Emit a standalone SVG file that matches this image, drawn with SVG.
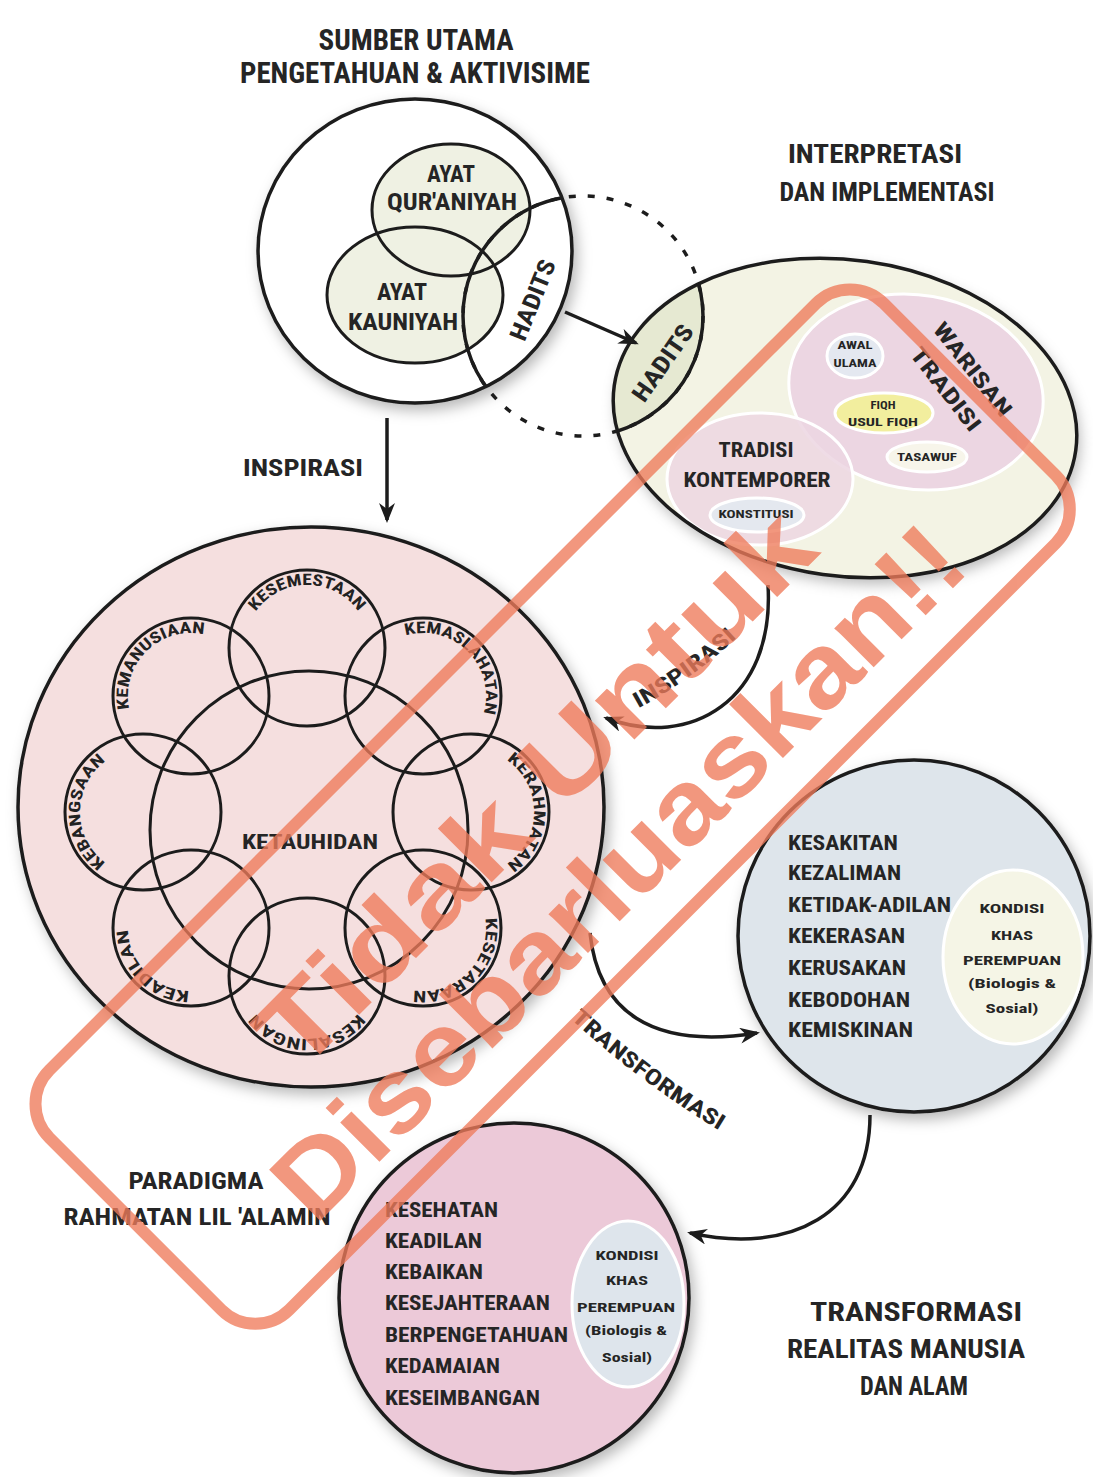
<svg xmlns="http://www.w3.org/2000/svg" xmlns:xlink="http://www.w3.org/1999/xlink" width="1093" height="1477" viewBox="0 0 1093 1477">
<defs>
<style>
.c{font-family:"Liberation Sans Narrow","Roboto Condensed","Liberation Sans",Arial,sans-serif;font-weight:700;fill:#252525}
.ln{fill:none;stroke:#1c1c1c;stroke-width:3}
.bl{stroke:#1c1c1c;stroke-width:3.5}
.sub{stroke:#ffffff;stroke-width:3}
.f{font-family:"Liberation Sans Narrow","Roboto Condensed","Liberation Sans",Arial,sans-serif;font-weight:700;font-size:16px;fill:#222}
.arr{fill:none;stroke:#1c1c1c;stroke-width:3.5;marker-end:url(#ah)}
.wm{font-family:"Liberation Sans",Arial,sans-serif;font-weight:700;fill:#ef7b5b}
</style>
<filter id="sh" x="-15%" y="-15%" width="135%" height="135%">
<feDropShadow dx="4" dy="6" stdDeviation="7" flood-color="#000" flood-opacity="0.28"/>
</filter>
<marker id="ah" viewBox="0 0 20 16" refX="17" refY="8" markerWidth="20" markerHeight="16" markerUnits="userSpaceOnUse" orient="auto">
<path d="M0,0 L20,8 L0,16 L6,8 z" fill="#1c1c1c"/>
</marker>
<clipPath id="clipTop"><ellipse cx="415" cy="251" rx="157" ry="152"/></clipPath>
<clipPath id="clipInterp"><ellipse cx="845" cy="418" rx="233" ry="158" transform="rotate(8 845 418)"/></clipPath>
<path id="p1" d="M307,711 A63,63 0 0 1 307,585 A63,63 0 0 1 307,711"/>
<path id="p2" d="M378.45,740.55 A63,63 0 0 1 467.55,651.45 A63,63 0 0 1 378.45,740.55"/>
<path id="p3" d="M408,812 A63,63 0 0 1 534,812 A63,63 0 0 1 408,812"/>
<path id="p4" d="M378.45,883.45 A63,63 0 0 1 467.55,972.55 A63,63 0 0 1 378.45,883.45"/>
<path id="p5" d="M307,913 A63,63 0 0 1 307,1039 A63,63 0 0 1 307,913"/>
<path id="p6" d="M235.55,883.45 A63,63 0 0 1 146.45,972.55 A63,63 0 0 1 235.55,883.45"/>
<path id="p7" d="M206,812 A63,63 0 0 1 80,812 A63,63 0 0 1 206,812"/>
<path id="p8" d="M235.55,740.55 A63,63 0 0 1 146.45,651.45 A63,63 0 0 1 235.55,740.55"/>
<path id="pInsp" d="M630,713 Q693,680 744,631"/>
<path id="pTrans" d="M567.6,1016.2 Q639.2,1082.4 722.8,1132.6"/>
</defs>

<rect width="1093" height="1477" fill="#ffffff"/>

<g id="title-sumber">
<text class="c" x="416" y="50" font-size="30" text-anchor="middle" textLength="195" lengthAdjust="spacingAndGlyphs">SUMBER UTAMA</text>
<text class="c" x="415" y="83" font-size="30" text-anchor="middle" textLength="350" lengthAdjust="spacingAndGlyphs">PENGETAHUAN &amp; AKTIVISIME</text>
</g>

<g id="title-interpretasi">
<text class="c" x="875" y="163" font-size="26" text-anchor="middle" textLength="174" lengthAdjust="spacingAndGlyphs">INTERPRETASI</text>
<text class="c" x="887" y="201" font-size="26" text-anchor="middle" textLength="215" lengthAdjust="spacingAndGlyphs">DAN IMPLEMENTASI</text>
</g>

<g id="node-sumber">
<ellipse cx="415" cy="251" rx="157" ry="152" fill="#ffffff" class="bl" filter="url(#sh)"/>
<ellipse cx="451" cy="210" rx="79" ry="66" fill="#eff1e3"/>
<ellipse cx="415" cy="295" rx="88" ry="68" fill="#eff1e3"/>
<ellipse cx="451" cy="210" rx="79" ry="66" class="ln"/>
<ellipse cx="415" cy="295" rx="88" ry="68" class="ln"/>
<text class="c" x="451" y="182" font-size="24" text-anchor="middle" textLength="48" lengthAdjust="spacingAndGlyphs">AYAT</text>
<text class="c" x="452" y="210" font-size="24" text-anchor="middle" textLength="130" lengthAdjust="spacingAndGlyphs">QUR'ANIYAH</text>
<text class="c" x="402" y="300" font-size="24" text-anchor="middle" textLength="50" lengthAdjust="spacingAndGlyphs">AYAT</text>
<text class="c" x="403" y="330" font-size="24" text-anchor="middle" textLength="110" lengthAdjust="spacingAndGlyphs">KAUNIYAH</text>
</g>

<g id="node-interpretasi">
<ellipse cx="845" cy="418" rx="233" ry="158" transform="rotate(8 845 418)" fill="#f3f3e4" filter="url(#sh)"/>
<circle cx="583" cy="316" r="120" fill="#e6e9d2" clip-path="url(#clipInterp)"/>
<ellipse cx="916" cy="392" rx="128" ry="97" transform="rotate(10 916 392)" fill="#ecd6e2" class="sub"/>
<ellipse cx="760" cy="479" rx="93" ry="66" fill="#ecd6e2" fill-opacity="0.85" class="sub"/>
<ellipse cx="855" cy="356" rx="28" ry="22" fill="#e4e8f0" class="sub"/>
<ellipse cx="884" cy="413" rx="49" ry="20" fill="#f2ee9e" class="sub"/>
<ellipse cx="927" cy="457" rx="40" ry="15" fill="#f7f5ea" class="sub"/>
<ellipse cx="757" cy="515" rx="47" ry="17" fill="#e4e8ef" class="sub"/>
<ellipse cx="845" cy="418" rx="233" ry="158" transform="rotate(8 845 418)" class="bl" fill="none"/>
<text class="c" font-size="22" text-anchor="middle" transform="translate(973,369) rotate(52)" y="8" textLength="113" lengthAdjust="spacingAndGlyphs">WARISAN</text>
<text class="c" font-size="22" text-anchor="middle" transform="translate(946,389) rotate(52)" y="8" textLength="100" lengthAdjust="spacingAndGlyphs">TRADISI</text>
<text class="c" x="855" y="349" font-size="10" text-anchor="middle" textLength="35" lengthAdjust="spacingAndGlyphs">AWAL</text>
<text class="c" x="855" y="367" font-size="10" text-anchor="middle" textLength="43" lengthAdjust="spacingAndGlyphs">ULAMA</text>
<text class="c" x="883" y="409" font-size="10" text-anchor="middle" textLength="25" lengthAdjust="spacingAndGlyphs">FIQH</text>
<text class="c" x="883" y="426" font-size="10" text-anchor="middle" textLength="70" lengthAdjust="spacingAndGlyphs">USUL FIQH</text>
<text class="c" x="927" y="461" font-size="10" text-anchor="middle" textLength="60" lengthAdjust="spacingAndGlyphs">TASAWUF</text>
<text class="c" x="756" y="457" font-size="21" text-anchor="middle" textLength="75" lengthAdjust="spacingAndGlyphs">TRADISI</text>
<text class="c" x="757" y="487" font-size="21" text-anchor="middle" textLength="147" lengthAdjust="spacingAndGlyphs">KONTEMPORER</text>
<text class="c" x="756" y="518" font-size="10" text-anchor="middle" textLength="75" lengthAdjust="spacingAndGlyphs">KONSTITUSI</text>
</g>

<g id="node-hadits">
<circle cx="583" cy="316" r="120" fill="none" stroke="#1c1c1c" stroke-width="3.5" stroke-dasharray="7 12"/>
<circle cx="583" cy="316" r="120" class="bl" fill="none" clip-path="url(#clipTop)"/>
<circle cx="583" cy="316" r="120" class="bl" fill="none" clip-path="url(#clipInterp)"/>
<text class="c" font-size="24" text-anchor="middle" transform="translate(533,300) rotate(-68)" y="8" textLength="85" lengthAdjust="spacingAndGlyphs">HADITS</text>
<text class="c" font-size="24" text-anchor="middle" transform="translate(663,363) rotate(-55)" y="8" textLength="88" lengthAdjust="spacingAndGlyphs">HADITS</text>
</g>

<g id="node-paradigma">
<ellipse cx="311" cy="807" rx="293" ry="280" fill="#f5dfdf" class="bl" filter="url(#sh)"/>
<circle cx="309" cy="830" r="159" class="ln"/>
<circle cx="307" cy="648" r="78" class="ln"/>
<circle cx="423" cy="696" r="78" class="ln"/>
<circle cx="471" cy="812" r="78" class="ln"/>
<circle cx="423" cy="928" r="78" class="ln"/>
<circle cx="307" cy="976" r="78" class="ln"/>
<circle cx="191" cy="928" r="78" class="ln"/>
<circle cx="143" cy="812" r="78" class="ln"/>
<circle cx="191" cy="696" r="78" class="ln"/>
<text class="f"><textPath href="#p1" xlink:href="#p1" startOffset="50%" text-anchor="middle" textLength="120" lengthAdjust="spacingAndGlyphs">KESEMESTAAN</textPath></text>
<text class="f"><textPath href="#p2" xlink:href="#p2" startOffset="50%" text-anchor="middle" textLength="134" lengthAdjust="spacingAndGlyphs">KEMASLAHATAN</textPath></text>
<text class="f"><textPath href="#p3" xlink:href="#p3" startOffset="50%" text-anchor="middle" textLength="122" lengthAdjust="spacingAndGlyphs">KERAHMATAN</textPath></text>
<text class="f"><textPath href="#p4" xlink:href="#p4" startOffset="50%" text-anchor="middle" textLength="118" lengthAdjust="spacingAndGlyphs">KESETARAAN</textPath></text>
<text class="f"><textPath href="#p5" xlink:href="#p5" startOffset="50%" text-anchor="middle" textLength="118" lengthAdjust="spacingAndGlyphs">KESALINGAN</textPath></text>
<text class="f"><textPath href="#p6" xlink:href="#p6" startOffset="50%" text-anchor="middle" textLength="96" lengthAdjust="spacingAndGlyphs">KEADILAN</textPath></text>
<text class="f"><textPath href="#p7" xlink:href="#p7" startOffset="50%" text-anchor="middle" textLength="118" lengthAdjust="spacingAndGlyphs">KEBANGSAAN</textPath></text>
<text class="f"><textPath href="#p8" xlink:href="#p8" startOffset="50%" text-anchor="middle" textLength="125" lengthAdjust="spacingAndGlyphs">KEMANUSIAAN</textPath></text>
<text class="c" x="310" y="849" font-size="20" text-anchor="middle" textLength="136" lengthAdjust="spacingAndGlyphs">KETAUHIDAN</text>
</g>

<g id="title-paradigma">
<text class="c" x="196" y="1189" font-size="24" text-anchor="middle" textLength="135" lengthAdjust="spacingAndGlyphs">PARADIGMA</text>
<text class="c" x="197" y="1225" font-size="24" text-anchor="middle" textLength="267" lengthAdjust="spacingAndGlyphs">RAHMATAN LIL 'ALAMIN</text>
</g>

<g id="node-realitas">
<circle cx="914" cy="936" r="176" fill="#dee5eb" class="bl" filter="url(#sh)"/>
<ellipse cx="1013" cy="957" rx="70" ry="87" fill="#f5f5e6" class="sub"/>
<text class="c" x="788" y="850" font-size="21" textLength="110" lengthAdjust="spacingAndGlyphs">KESAKITAN</text>
<text class="c" x="788" y="880" font-size="21" textLength="113" lengthAdjust="spacingAndGlyphs">KEZALIMAN</text>
<text class="c" x="788" y="912" font-size="21" textLength="163" lengthAdjust="spacingAndGlyphs">KETIDAK-ADILAN</text>
<text class="c" x="788" y="943" font-size="21" textLength="117" lengthAdjust="spacingAndGlyphs">KEKERASAN</text>
<text class="c" x="788" y="975" font-size="21" textLength="118" lengthAdjust="spacingAndGlyphs">KERUSAKAN</text>
<text class="c" x="788" y="1007" font-size="21" textLength="122" lengthAdjust="spacingAndGlyphs">KEBODOHAN</text>
<text class="c" x="788" y="1037" font-size="21" textLength="125" lengthAdjust="spacingAndGlyphs">KEMISKINAN</text>
<text class="c" x="1012" y="913" font-size="13" text-anchor="middle" textLength="65" lengthAdjust="spacingAndGlyphs">KONDISI</text>
<text class="c" x="1012" y="940" font-size="13" text-anchor="middle" textLength="42" lengthAdjust="spacingAndGlyphs">KHAS</text>
<text class="c" x="1012" y="965" font-size="13" text-anchor="middle" textLength="98" lengthAdjust="spacingAndGlyphs">PEREMPUAN</text>
<text class="c" x="1012" y="988" font-size="13" text-anchor="middle" textLength="88" lengthAdjust="spacingAndGlyphs">(Biologis &amp;</text>
<text class="c" x="1012" y="1013" font-size="13" text-anchor="middle" textLength="53" lengthAdjust="spacingAndGlyphs">Sosial)</text>
</g>

<g id="node-transformasi">
<circle cx="514" cy="1298" r="175" fill="#ecc9d8" class="bl" filter="url(#sh)"/>
<ellipse cx="628" cy="1304" rx="56" ry="83" fill="#dee5ec" class="sub"/>
<text class="c" x="385" y="1217" font-size="21" textLength="113" lengthAdjust="spacingAndGlyphs">KESEHATAN</text>
<text class="c" x="385" y="1248" font-size="21" textLength="97" lengthAdjust="spacingAndGlyphs">KEADILAN</text>
<text class="c" x="385" y="1279" font-size="21" textLength="98" lengthAdjust="spacingAndGlyphs">KEBAIKAN</text>
<text class="c" x="385" y="1310" font-size="21" textLength="165" lengthAdjust="spacingAndGlyphs">KESEJAHTERAAN</text>
<text class="c" x="385" y="1342" font-size="21" textLength="183" lengthAdjust="spacingAndGlyphs">BERPENGETAHUAN</text>
<text class="c" x="385" y="1373" font-size="21" textLength="115" lengthAdjust="spacingAndGlyphs">KEDAMAIAN</text>
<text class="c" x="385" y="1405" font-size="21" textLength="155" lengthAdjust="spacingAndGlyphs">KESEIMBANGAN</text>
<text class="c" x="627" y="1260" font-size="13" text-anchor="middle" textLength="63" lengthAdjust="spacingAndGlyphs">KONDISI</text>
<text class="c" x="627" y="1285" font-size="13" text-anchor="middle" textLength="42" lengthAdjust="spacingAndGlyphs">KHAS</text>
<text class="c" x="626" y="1312" font-size="13" text-anchor="middle" textLength="98" lengthAdjust="spacingAndGlyphs">PEREMPUAN</text>
<text class="c" x="626" y="1335" font-size="13" text-anchor="middle" textLength="82" lengthAdjust="spacingAndGlyphs">(Biologis &amp;</text>
<text class="c" x="627" y="1362" font-size="13" text-anchor="middle" textLength="50" lengthAdjust="spacingAndGlyphs">Sosial)</text>
</g>

<g id="title-transformasi">
<text class="c" x="916" y="1321" font-size="26" text-anchor="middle" textLength="212" lengthAdjust="spacingAndGlyphs">TRANSFORMASI</text>
<text class="c" x="906" y="1358" font-size="26" text-anchor="middle" textLength="238" lengthAdjust="spacingAndGlyphs">REALITAS MANUSIA</text>
<text class="c" x="914" y="1395" font-size="26" text-anchor="middle" textLength="108" lengthAdjust="spacingAndGlyphs">DAN ALAM</text>
</g>

<g id="connectors">
<path class="arr" d="M565,312 L636,343"/>
<path class="arr" d="M387,418 L387,520"/>
<path class="arr" d="M768,585 C775,700 690,750 606,718"/>
<path class="arr" d="M590,933 C598,1010 650,1050 757,1033"/>
<path class="arr" d="M870,1115 C870,1215 790,1255 690,1233"/>
<text class="c" x="303" y="476" font-size="24" text-anchor="middle" textLength="120" lengthAdjust="spacingAndGlyphs">INSPIRASI</text>
<text class="c" font-size="22"><textPath href="#pInsp" xlink:href="#pInsp" startOffset="50%" text-anchor="middle" textLength="122" lengthAdjust="spacingAndGlyphs">INSPIRASI</textPath></text>
<text class="c" font-size="22"><textPath href="#pTrans" xlink:href="#pTrans" startOffset="50%" text-anchor="middle" textLength="186" lengthAdjust="spacingAndGlyphs">TRANSFORMASI</textPath></text>
</g>

<g id="watermark" opacity="0.78" transform="translate(553,807) rotate(-45)">
<rect x="-590" y="-170" width="1180" height="339" rx="48" fill="none" stroke="#ef7b5b" stroke-width="12"/>
<text class="wm" x="0" y="10" font-size="105" text-anchor="middle" textLength="740" lengthAdjust="spacingAndGlyphs">Tidak Untuk</text>
<text class="wm" x="0" y="128" font-size="105" text-anchor="middle" textLength="930" lengthAdjust="spacingAndGlyphs">Disebarluaskan!!</text>
</g>
</svg>
